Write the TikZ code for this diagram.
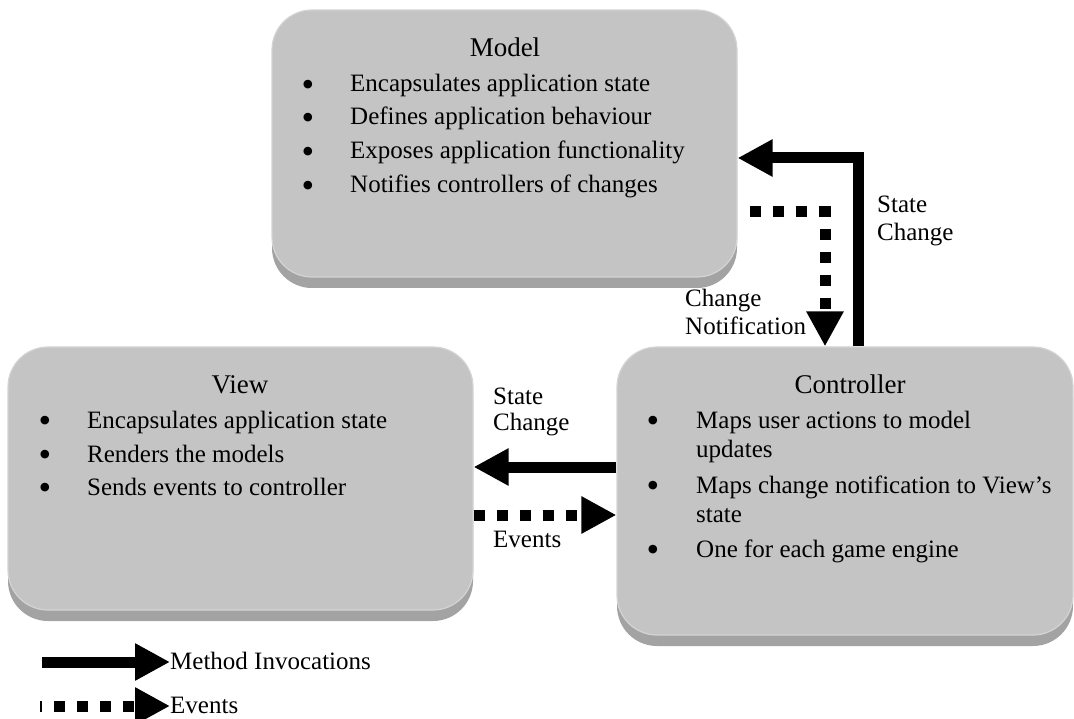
\documentclass[tikz,border=0pt]{standalone}
\usepackage{fontspec}
\setmainfont{Liberation Serif}
\usetikzlibrary{arrows.meta,shadows}
\definecolor{boxface}{RGB}{196,196,196}
\definecolor{boxedge}{RGB}{212,212,212}
\definecolor{boxshade}{RGB}{163,163,163}
\newcommand{\bigdot}{\raisebox{-4.5pt}{\fontsize{36pt}{36pt}\selectfont\textbullet}}
\tikzset{
  panel/.style={rectangle, rounded corners=40pt, fill=boxface, draw=boxedge,
    line width=1.2pt, inner sep=0pt,
    general shadow={fill=boxshade, shadow yshift=-11pt}},
  bodyfont/.style={font=\fontsize{25pt}{30pt}\selectfont, inner sep=0pt},
  ttl/.style={font=\fontsize{27pt}{30pt}\selectfont, inner sep=0pt, anchor=base},
  bul/.style={bodyfont, anchor=base},
  itm/.style={bodyfont, anchor=base west},
  lbl/.style={bodyfont, anchor=base west},
  methodarrow/.style={line width=11pt, -{Triangle[length=35pt,width=35pt]}},
  eventarrow/.style={methodarrow, dash pattern=on 11pt off 12pt},
}
\begin{document}
\begin{tikzpicture}[x=1pt,y=-1pt]
\useasboundingbox (0,0) rectangle (1074,719);

% the three components
\node[panel, minimum width=465pt, minimum height=267pt] (model) at (504.5,143.5) {};
\node[panel, minimum width=465pt, minimum height=263pt] (view) at (240.5,478.5) {};
\node[panel, minimum width=456pt, minimum height=288pt] (ctrl) at (845,491) {};

% Model text
\node[ttl] (mt) at (505,57) {Model};
\node[bul] (mb1) at (308,92) {\bigdot};
\node[bul] (mb2) at (308,125) {\bigdot};
\node[bul] (mb3) at (308,159) {\bigdot};
\node[bul] (mb4) at (308,193) {\bigdot};
\node[itm] (mi1) at (350,92) {Encapsulates application state};
\node[itm] (mi2) at (350,125) {Defines application behaviour};
\node[itm] (mi3) at (350,159) {Exposes application functionality};
\node[itm] (mi4) at (350,193) {Notifies controllers of changes};

% View text
\node[ttl] (vt) at (240,393) {View};
\node[bul] (vb1) at (45,428) {\bigdot};
\node[bul] (vb2) at (45,462) {\bigdot};
\node[bul] (vb3) at (45,495) {\bigdot};
\node[itm] (vi1) at (87,428) {Encapsulates application state};
\node[itm] (vi2) at (87,462) {Renders the models};
\node[itm] (vi3) at (87,495) {Sends events to controller};

% Controller text
\node[ttl] (ct) at (850,393) {Controller};
\node[bul] (cb1) at (653,428) {\bigdot};
\node[bul] (cb2) at (653,493) {\bigdot};
\node[bul] (cb3) at (653,557) {\bigdot};
\node[itm] (ci1) at (696,428) {Maps user actions to model};
\node[itm] (ci1b) at (696,457) {updates};
\node[itm] (ci2) at (696,493) {Maps change notification to View’s};
\node[itm] (ci2b) at (696,522) {state};
\node[itm] (ci3) at (696,557) {One for each game engine};

% routing points
\coordinate (scm) at (858,158);
\coordinate (cnm) at (825,212);
\coordinate (scv) at (0,467);
\coordinate (evv) at (0,515);

% Controller -> Model : state change
\draw[methodarrow] (ctrl.north -| scm) |- (model.east |- scm);
% Model -> Controller : change notification
\draw[eventarrow, dash phase=11pt] (model.east |- cnm) -| (ctrl.north -| cnm);
% Controller -> View : state change
\draw[methodarrow] (ctrl.west |- scv) -- (view.east |- scv);
% View -> Controller : events
\draw[eventarrow] (view.east |- evv) -- (ctrl.west |- evv);

% connector labels
\node[lbl] (l1a) at (877,213) {State};
\node[lbl] (l1b) at (877,241) {Change};
\node[lbl] (l2a) at (685,307) {Change};
\node[lbl] (l2b) at (685,335) {Notification};
\node[lbl] (l3a) at (493,404) {State};
\node[lbl] (l3b) at (493,430) {Change};
\node[lbl] (l4) at (493,547) {Events};

% legend
\node[lbl] (legm) at (170,669) {Method Invocations};
\node[lbl] (lege) at (170,713) {Events};
\coordinate (lms) at (42,662);
\coordinate (les) at (40,706);
\draw[methodarrow] (lms) -- (lms -| legm.west);
\draw[eventarrow, dash phase=9pt] (les) -- (les -| lege.west);
\end{tikzpicture}
\end{document}
